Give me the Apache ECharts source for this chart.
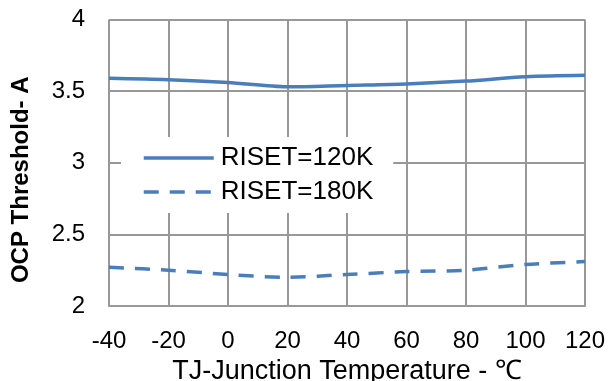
<!DOCTYPE html>
<html>
<head>
<meta charset="utf-8">
<script src="https://cdn.jsdelivr.net/npm/echarts@6/dist/echarts.min.js"></script>
<style>
  html, body { margin: 0; padding: 0; background: #fff; }
  #chart { width: 610px; height: 381px; }
</style>
</head>
<body>
<div id="chart"></div>
<script>
// temperatures on x axis
const temps = [-40, -20, 0, 20, 40, 60, 80, 100, 120];
const riset120 = [3.59, 3.58, 3.56, 3.53, 3.54, 3.55, 3.57, 3.60, 3.61];
const riset180 = [2.27, 2.25, 2.22, 2.20, 2.22, 2.24, 2.25, 2.29, 2.31];
const seriesNames = ['RISET=120K', 'RISET=180K'];

const pair = (vals) => temps.map((t, i) => [t, vals[i]]);

const myChart = echarts.init(document.getElementById('chart'));
const gridColor = '#989898';
const lineColor = '#4a7ebb';
const font = 'Liberation Sans, Arial, sans-serif';

myChart.setOption({
  animation: false,
  textStyle: { fontFamily: font },
  grid: { left: 109, right: 25, top: 19.5, bottom: 75, outerBoundsMode: 'none', containLabel: false },
  legend: {
    orient: 'vertical',
    left: 121,
    top: 137,
    padding: [8, 20, 8, 21],
    backgroundColor: '#fff',
    itemWidth: 70,
    itemHeight: 14,
    itemGap: 8,
    itemStyle: { opacity: 0 },
    lineStyle: { width: 3.5 },
    textStyle: { fontSize: 26, color: '#000', fontFamily: font, padding: [0, 0, 0, 2] },
    data: seriesNames
  },
  xAxis: {
    type: 'value',
    min: -40, max: 120, interval: 20,
    name: 'TJ-Junction Temperature - ℃',
    nameLocation: 'middle',
    nameGap: 42,
    nameTextStyle: { fontSize: 27, color: '#000', fontFamily: font },
    axisLine: { show: true, lineStyle: { color: gridColor, width: 2 } },
    axisTick: { show: false },
    axisLabel: { fontSize: 24, color: '#000', margin: 23, fontFamily: font },
    splitLine: { show: true, lineStyle: { color: gridColor, width: 2 } }
  },
  yAxis: {
    type: 'value',
    min: 2, max: 4, interval: 0.5,
    name: 'OCP Threshold- A',
    nameLocation: 'middle',
    nameGap: 76,
    nameTextStyle: { fontSize: 24, fontWeight: 'bold', color: '#000', fontFamily: font, padding: [0, 34, 0, 0] },
    axisLine: { show: false },
    axisTick: { show: false },
    axisLabel: { fontSize: 24, color: '#000', margin: 24, fontFamily: font },
    splitLine: { show: true, lineStyle: { color: gridColor, width: 2 } }
  },
  series: [
    {
      name: seriesNames[0],
      type: 'line',
      data: pair(riset120),
      smooth: 0.3,
      symbol: 'none',
      lineStyle: { color: lineColor, width: 3.5 },
      itemStyle: { color: lineColor }
    },
    {
      name: seriesNames[1],
      type: 'line',
      data: pair(riset180),
      smooth: 0.3,
      symbol: 'none',
      lineStyle: { color: lineColor, width: 3.5, type: [15, 11] },
      itemStyle: { color: lineColor }
    }
  ]
});
</script>
</body>
</html>
